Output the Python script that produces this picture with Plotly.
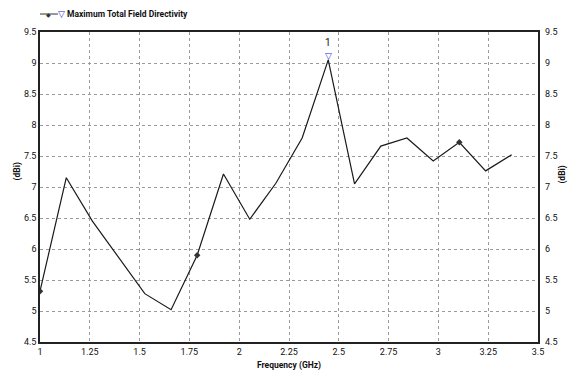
import plotly.graph_objects as go

# Data
freq = [1.0, 1.132, 1.263, 1.395, 1.526, 1.658, 1.789, 1.921, 2.053, 2.184,
        2.316, 2.447, 2.579, 2.711, 2.842, 2.974, 3.105, 3.237, 3.368]
directivity = [5.32, 7.15, 6.45, 5.86, 5.28, 5.02, 5.90, 7.21, 6.48, 7.06,
               7.79, 9.05, 7.05, 7.66, 7.79, 7.42, 7.72, 7.26, 7.52]
marker_idx = [0, 6, 16]
peak_idx = 11

x_ticks = [1, 1.25, 1.5, 1.75, 2, 2.25, 2.5, 2.75, 3, 3.25, 3.5]
x_ticktext = ["1", "1.25", "1.5", "1.75", "2", "2.25", "2.5", "2.75", "3", "3.25", "3.5"]
y_ticks = [4.5, 5, 5.5, 6, 6.5, 7, 7.5, 8, 8.5, 9, 9.5]
y_ticktext = ["4.5", "5", "5.5", "6", "6.5", "7", "7.5", "8", "8.5", "9", "9.5"]

series_name = "Maximum Total Field Directivity"
x_title = "Frequency (GHz)"
y_title = "(dBi)"

FONT = "Liberation Sans Narrow, Roboto, Liberation Sans, Arial, sans-serif"
TXT = "#111111"

fig = go.Figure()
fig.add_trace(go.Scatter(
    x=freq, y=directivity, mode="lines",
    line=dict(color="#1a1a1a", width=1.2),
    showlegend=False, hoverinfo="skip"))
fig.add_trace(go.Scatter(
    x=[freq[i] for i in marker_idx], y=[directivity[i] for i in marker_idx],
    mode="markers",
    marker=dict(symbol="diamond", size=5, color="#333333"),
    showlegend=False, hoverinfo="skip"))

# Peak marker "1"
fig.add_annotation(x=freq[peak_idx], y=directivity[peak_idx], xref="x", yref="y",
                   text="<b>▽</b>", showarrow=False, yanchor="middle", yshift=4,
                   borderpad=0,
                   font=dict(family="DejaVu Sans", size=9, color="#2a2ae6"))
fig.add_annotation(x=freq[peak_idx], y=directivity[peak_idx], xref="x", yref="y",
                   text="1", showarrow=False, yanchor="middle", yshift=17,
                   borderpad=0,
                   font=dict(family=FONT, size=10, color=TXT))

# Legend (manual)
LY = 1.058
fig.add_shape(type="line", xref="paper", yref="paper",
              x0=0.0, x1=0.036, y0=LY, y1=LY,
              line=dict(color="#333333", width=1))
fig.add_annotation(xref="paper", yref="paper", x=0.018, y=LY, text="◆",
                   xanchor="center", yanchor="middle",
                   showarrow=False, font=dict(family="DejaVu Sans", size=6, color="#333333"))
fig.add_annotation(xref="paper", yref="paper", x=0.043, y=LY, text="<b>▽</b>",
                   xanchor="center", yanchor="middle",
                   showarrow=False, font=dict(family="DejaVu Sans", size=9, color="#2a2ae6"))
fig.add_annotation(xref="paper", yref="paper", x=0.05, y=LY, xanchor="left", yanchor="middle",
                   text="<b>" + series_name + "</b>",
                   showarrow=False, font=dict(family=FONT, size=8.5, color=TXT))

# Axis titles
fig.add_annotation(xref="paper", yref="paper", x=0.5, y=0, yshift=-23,
                   xanchor="center", yanchor="middle",
                   text="<b>" + x_title + "</b>", showarrow=False,
                   font=dict(family=FONT, size=8.5, color=TXT))
fig.add_annotation(xref="paper", yref="paper", x=0, xshift=-23, y=0.55,
                   xanchor="center", yanchor="middle",
                   text="<b>" + y_title + "</b>", showarrow=False, textangle=-90,
                   font=dict(family=FONT, size=8.5, color=TXT))
fig.add_annotation(xref="paper", yref="paper", x=1, xshift=25, y=0.54,
                   xanchor="center", yanchor="middle",
                   text="<b>" + y_title + "</b>", showarrow=False, textangle=-90,
                   font=dict(family=FONT, size=8.5, color=TXT))

grid = dict(showgrid=True, gridcolor="#9a9a9a", griddash="dot", gridwidth=1)
fig.update_layout(
    width=573, height=373,
    margin=dict(l=40, r=35, t=32, b=31),
    paper_bgcolor="white", plot_bgcolor="white",
    font=dict(family=FONT, size=9, color=TXT),
    xaxis=dict(range=[1, 3.5], tickvals=x_ticks, ticktext=x_ticktext,
               showline=True, linecolor="#222222", linewidth=1.5, mirror=True,
               ticks="", zeroline=False, tickfont=dict(size=9), **grid),
    yaxis=dict(range=[4.5, 9.5], tickvals=y_ticks, ticktext=y_ticktext,
               showline=True, linecolor="#222222", linewidth=1.5, mirror=True,
               ticks="", zeroline=False, tickfont=dict(size=9), **grid),
    yaxis2=dict(range=[4.5, 9.5], tickvals=y_ticks, ticktext=y_ticktext,
                overlaying="y", side="right", showgrid=False, zeroline=False,
                showline=False, ticks="", ticklabelstandoff=6, tickfont=dict(size=9)),
)
fig.add_trace(go.Scatter(x=[freq[0]], y=[directivity[0]], yaxis="y2",
                         mode="markers", marker=dict(opacity=0),
                         showlegend=False, hoverinfo="skip"))

fig.write_html("out.html")
